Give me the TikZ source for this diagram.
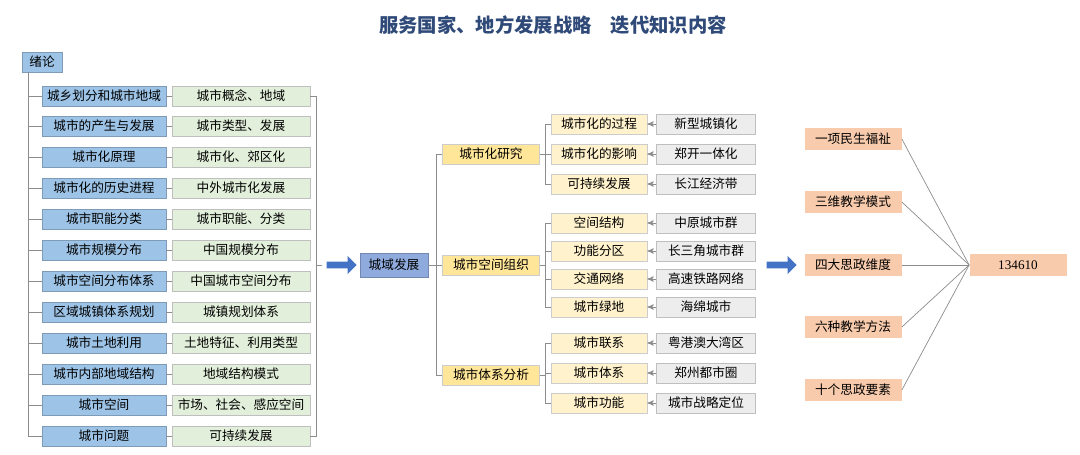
\documentclass[tikz,border=0pt]{standalone}
\usepackage{fontspec}
\setmainfont{Noto Sans CJK SC}
\usepackage{xcolor}
\usetikzlibrary{arrows}
\usetikzlibrary{shapes.arrows}
\definecolor{cblue}{HTML}{9DC3E6}
\definecolor{cgreen}{HTML}{E2EFDA}
\definecolor{cyel}{HTML}{FFF2CC}
\definecolor{cyelmid}{HTML}{FFE699}
\definecolor{cgray}{HTML}{EDEDED}
\definecolor{corange}{HTML}{F8CBAD}
\definecolor{croot}{HTML}{8FAADC}
\definecolor{carrow}{HTML}{4472C4}
\definecolor{ctitle}{HTML}{2F4A78}
\tikzset{
    box/.style = {align=center, inner sep=0pt, text centered, minimum height=20*0.02cm, font=\fontsize{7.2}{8}\selectfont},
    blue_box/.style = {box, fill=cblue, draw=cblue!80!black, minimum width=124*0.02cm},
    green_box/.style = {box, fill=cgreen, draw=black!25, minimum width=138*0.02cm},
    mid_box/.style = {box, fill=cyelmid, draw=black!20, minimum width=97*0.02cm},
    leaf_box/.style = {box, fill=cyel, draw=black!20, minimum width=96*0.02cm},
    gray_box/.style = {box, fill=cgray, draw=black!25, minimum width=99*0.02cm},
    org_box/.style = {box, fill=corange, minimum width=97*0.02cm, minimum height=22*0.02cm},
    link/.style = {draw=black!45, thin},
    big_arrow/.style = {single arrow, fill=carrow, minimum height=30*0.02cm, minimum width=18*0.02cm, single arrow head extend=2pt, inner sep=1pt}
}
\begin{document}
\begin{tikzpicture}[x=0.02cm, y=-0.02cm, >=stealth']
    \useasboundingbox (0,0) rectangle (1080,454);

    \node [text=ctitle, font=\fontsize{11}{12}\selectfont\bfseries] (title) at (553,25) {服务国家、地方发展战略\quad 迭代知识内容};

    % left column
    \node [blue_box, minimum width=40*0.02cm] (intro) at (42,62) {绪论};
    \foreach \i/\a/\b/\y in {1/城乡划分和城市地域/城市概念、地域/96, 2/城市的产生与发展/城市类型、发展/126,
        3/城市化原理/城市化、郊区化/157, 4/城市化的历史进程/中外城市化发展/188, 5/城市职能分类/城市职能、分类/219,
        6/城市规模分布/中国规模分布/250, 7/城市空间分布体系/中国城市空间分布/281, 8/区域城镇体系规划/城镇规划体系/312,
        9/城市土地利用/土地特征、利用类型/343, 10/城市内部地域结构/地域结构模式/374, 11/城市空间/市场、社会、感应空间/405,
        12/城市问题/可持续发展/436}{
        \node [blue_box] (b\i) at (104,\y) {\a};
        \node [green_box] (g\i) at (241,\y) {\b};
        \draw [link] (b\i.east) -- (g\i.west);
        \draw [link] (28,\y) -- (b\i.west);
    }
    \draw [link] (intro.south -| 28,0) -- (28,436);
    \draw [link] (g1.east) -- (316,96) -- (316,436) -- (g12.east);
    \coordinate (lj) at (322,265);
    \draw [link] (316,265) -- (lj);

    \node [big_arrow] (arr1) at (340,265) {};

    % middle tree
    \node [box, fill=croot, draw=croot!80!black, minimum width=68*0.02cm, minimum height=24*0.02cm] (root) at (394,265) {城域发展};
    \node [mid_box] (m1) at (491,154) {城市化研究};
    \node [mid_box] (m2) at (491,265) {城市空间组织};
    \node [mid_box] (m3) at (491,375) {城市体系分析};
    \draw [link] (root.east) -- (436,265);
    \draw [link] (m1.west) -- (436,154) -- (436,375) -- (m3.west);
    \draw [link] (436,265) -- (m2.west);

    \foreach \i/\a/\b/\y/\m in {1/城市化的过程/新型城镇化/124/1, 2/城市化的影响/郑开一体化/154/1, 3/可持续发展/长江经济带/184/1,
        4/空间结构/中原城市群/223/2, 5/功能分区/长三角城市群/251/2, 6/交通网络/高速铁路网络/279/2, 7/城市绿地/海绵城市/307/2,
        8/城市联系/粤港澳大湾区/343/3, 9/城市体系/郑州都市圈/373/3, 10/城市功能/城市战略定位/403/3}{
        \node [leaf_box] (y\i) at (599,\y) {\a};
        \node [gray_box] (r\i) at (706,\y) {\b};
        \draw [link, ->] (r\i.west) -- (y\i.east);
    }
    \draw [link] (m1.east) -- (545,154);
    \draw [link] (y1.west) -- (545,124) -- (545,184) -- (y3.west) (545,154) -- (y2.west);
    \draw [link] (m2.east) -- (545,265);
    \draw [link] (y4.west) -- (545,223) -- (545,307) -- (y7.west) (545,251) -- (y5.west) (545,279) -- (y6.west);
    \draw [link] (m3.east) -- (545,375);
    \draw [link] (y8.west) -- (545,343) -- (545,403) -- (y10.west) (545,373) -- (y9.west);

    \node [big_arrow] (arr2) at (780,265) {};

    % right part
    \node [org_box, font=\fontsize{7.5}{8}\selectfont\bfseries\setmainfont{Liberation Serif}] (goal) at (1018,265) {134610};
    \foreach \i/\a/\y in {1/一项民生福祉/139, 2/三维教学模式/202, 3/四大思政维度/265, 4/六种教学方法/327, 5/十个思政要素/390}{
        \node [org_box] (o\i) at (853,\y) {\a};
        \draw [link] (o\i.east) -- (goal.west);
    }
\end{tikzpicture}
\end{document}
